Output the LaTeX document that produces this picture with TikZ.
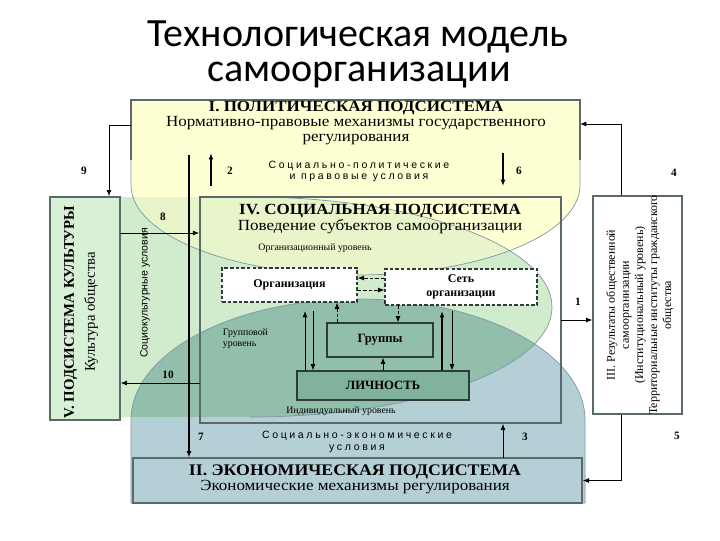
\documentclass[tikz,border=0pt]{standalone}
\usepackage{fontspec}
\setmainfont{Liberation Serif}
\newfontfamily\widefont{Liberation Serif}[FakeStretch=1.1]
\newfontfamily\titlefont{Carlito}
\newfontfamily\condfont{Liberation Sans}[LetterSpace=25]
\newfontfamily\sidefont{Liberation Sans}
\usetikzlibrary{arrows.meta,positioning,calc}
\definecolor{polyellow}{RGB}{255,255,212}
\definecolor{culgreen}{RGB}{208,236,204}
\definecolor{ecoblue}{RGB}{180,207,214}
\definecolor{mixgreen}{RGB}{232,245,202}
\definecolor{mixteal}{RGB}{146,190,172}
\definecolor{persteal}{RGB}{128,178,158}
\definecolor{culbox}{RGB}{216,240,214}
\definecolor{edgegrey}{HTML}{7D97A8}
\definecolor{framegrey}{HTML}{5A6A6A}
\definecolor{boxdark}{HTML}{2E3B39}

\tikzset{
  arr/.style={-{Latex[length=4.5pt,width=3.5pt]},line width=0.6pt},
  boldarr/.style={arr,line width=1.1pt},
  dasharr/.style={arr,dash pattern=on 2.5pt off 1.5pt},
  num/.style={font=\bfseries\fontsize{8}{9}\selectfont},
  titleline/.style={font=\titlefont\fontsize{28.5}{30}\selectfont,anchor=base,inner sep=0pt},
  headblock/.style={font=\widefont\fontsize{11}{10.5}\selectfont,align=center,anchor=north,inner sep=0pt},
  cond/.style={font=\condfont\fontsize{7.5}{7.8}\selectfont,align=center,anchor=north,inner sep=0pt},
  level/.style={font=\fontsize{7}{8}\selectfont},
  unitbox/.style={draw=boxdark,line width=0.8pt,inner sep=0pt},
  orgbox/.style={unitbox,dash pattern=on 2.5pt off 1.5pt,fill=white},
  bigframe/.style={draw=framegrey,line width=1.1pt,inner sep=0pt},
}

% outlines of the three subsystem regions (pixel grid)
\newcommand{\polshape}{(131,100) -- (131,185) .. controls (131,235) and (231,275) .. (355.5,275)
  .. controls (480,275) and (580,235) .. (580,185) -- (580,100) -- cycle}
\newcommand{\culshape}{(50,197) -- (250,197) .. controls (417,197) and (552,246) .. (552,307)
  .. controls (552,368) and (417,417) .. (250,417) -- (50,417) -- cycle}
\newcommand{\ecoshape}{(131,503) -- (131,420) .. controls (131,353) and (233,299) .. (358,299)
  .. controls (483,299) and (585,353) .. (585,420) -- (585,503) -- cycle}

\begin{document}
\begin{tikzpicture}[x=0.025cm,y=-0.025cm]
  \useasboundingbox (0,0) rectangle (720,540);

  % Title
  \node[titleline,text depth=0pt] (title1) at (358,46) {Технологическая модель};
  \node[titleline,text height=14pt] (title2) at (359,81) {самоорганизации};

  % Regions
  \fill[ecoblue] \ecoshape;
  \fill[culgreen] \culshape;
  \fill[polyellow] \polshape;
  \begin{scope}
    \clip \culshape;
    \fill[mixgreen] \polshape;
    \fill[mixteal] \ecoshape;
  \end{scope}
  \draw[edgegrey,line width=0.5pt] \ecoshape;
  \draw[edgegrey,line width=0.5pt] (250,197) .. controls (417,197) and (552,246) .. (552,307)
    .. controls (552,368) and (417,417) .. (250,417);
  \draw[edgegrey,line width=0.5pt] \polshape;
  \draw[framegrey,line width=1.2pt] (131,160) -- (131,100) -- (580,100) -- (580,160);

  % I. Political subsystem
  \node[headblock] (pol) at (356,101)
    {{\bfseries I.\ ПОЛИТИЧЕСКАЯ ПОДСИСТЕМА}\\Нормативно-правовые механизмы государственного\\регулирования};
  \node[cond] (polcond) at (359,161) {Социально-политические\\и правовые условия};

  % IV. Social subsystem
  \node[bigframe,minimum width=9.025cm,minimum height=5.65cm] (soc) at (380.5,310) {};
  \node[headblock,font=\widefont\fontsize{11}{9.5}\selectfont] (sochead) at (380,204)
    {{\bfseries IV. СОЦИАЛЬНАЯ ПОДСИСТЕМА}\\Поведение субъектов самоорганизации};
  \node[level,anchor=base] (orglevel) at (315,250) {Организационный уровень};
  \node[level,align=left,anchor=north west] (grplevel) at (218,324) {Групповой\\уровень};
  \node[level,anchor=base] (perslevel) at (341,413) {Индивидуальный уровень};

  \node[orgbox,minimum width=3.375cm,minimum height=0.85cm,font=\bfseries\fontsize{8.5}{10}\selectfont] (org) at (289.5,285) {Организация};
  \node[orgbox,minimum width=3.8cm,minimum height=0.9cm,align=center,font=\bfseries\fontsize{8.5}{10}\selectfont] (net) at (461,287) {Сеть\\организации};
  \node[unitbox,minimum width=2.65cm,minimum height=0.85cm,font=\bfseries\fontsize{9}{10}\selectfont] (grp) at (380,340) {Группы};
  \node[unitbox,fill=persteal,minimum width=4.3cm,minimum height=0.725cm,font=\bfseries\fontsize{9}{10}\selectfont] (pers) at (383,385.5) {ЛИЧНОСТЬ};

  % links between the levels
  \draw[dasharr] ([yshift=0.225cm]net.west) -- ([yshift=0.225cm]net.west -| org.east);
  \draw[dasharr] ([yshift=-0.125cm]org.east) -- ([yshift=-0.125cm]org.east -| net.west);
  \coordinate (xg) at (337,323);
  \draw[dasharr] (xg) -- (xg |- org.south);
  \coordinate (xn) at (398,305);
  \draw[dasharr] (xn) -- (xn |- grp.north);
  \draw[arr] (pers.north) -- (pers.north |- grp.south);
  \coordinate (u1) at (305,311);
  \draw[arr] (u1 |- pers.north) -- (u1);
  \coordinate (d1) at (313,311);
  \draw[arr] (d1) -- (d1 |- pers.north);
  \coordinate (u2) at (442,311);
  \draw[boldarr] (u2 |- pers.north) -- (u2);
  \coordinate (d2) at (452,311);
  \draw[arr] (d2) -- (d2 |- pers.north);

  % V. Culture subsystem
  \node[draw=framegrey,line width=0.9pt,fill=culbox,minimum width=1.75cm,minimum height=5.575cm] (cul) at (85,308.5) {};
  \node[rotate=90,align=center,font=\fontsize{10.5}{15}\selectfont] (cultext) at (81,312)
    {{\bfseries V. ПОДСИСТЕМА КУЛЬТУРЫ}\\Культура общества};
  \node[rotate=90,font=\sidefont\fontsize{7.5}{9}\selectfont] (culcond) at (145,293) {Социокультурные условия};

  % II. Economic subsystem
  \node[draw=framegrey,line width=0.9pt,fill=ecoblue,minimum width=11.225cm,minimum height=1.125cm] (eco) at (357.5,480.5) {};
  \node[headblock,font=\widefont\fontsize{11}{11.3}\selectfont] (ecotext) at (355,464)
    {{\fontsize{11.5}{11.3}\selectfont\bfseries II. ЭКОНОМИЧЕСКАЯ ПОДСИСТЕМА}\\Экономические механизмы регулирования};
  \node[cond,font=\condfont\fontsize{7.5}{8.5}\selectfont] (ecocond) at (357,431) {Социально-экономические\\условия};

  % III. Results
  \node[draw=framegrey,line width=0.8pt,fill=white,minimum width=2.225cm,minimum height=5.45cm] (res) at (637.5,305) {};
  \node[rotate=90,align=center,font=\fontsize{8.5}{10}\selectfont] (restext) at (640,305)
    {III. Результаты общественной\\самоорганизации\\(Институциональный уровень)\\Территориальные институты гражданского\\общества};

  % Connectors with numbers
  \coordinate (a1) at (561,320);
  \draw[arr] (a1) -- (a1 -| res.west);
  \node[num] (n1) at (578,302) {1};
  \coordinate (a2) at (211,186);
  \draw[boldarr] (a2) -- ++(0,-33);
  \node[num] (n2) at (230,171) {2};
  \coordinate (a3) at (503,458);
  \draw[arr] (a3) -- (a3 |- soc.south);
  \node[num] (n3) at (525,437) {3};
  \coordinate (p4) at (580,124);
  \draw[arr] ([xshift=-0.41cm]res.north) |- (p4);
  \node[num] (n4) at (674,173) {4};
  \draw[arr] ([xshift=-0.41cm]res.south) |- (eco.east);
  \node[num] (n5) at (677,436) {5};
  \coordinate (a6) at (503,153);
  \draw[boldarr] (a6) -- ++(0,33);
  \node[num] (n6) at (519,171) {6};
  \coordinate (a7) at (189,155);
  \draw[boldarr] (a7) -- (a7 |- eco.north);
  \node[num] (n7) at (201,437) {7};
  \coordinate (a8) at (120,233);
  \draw[arr] (a8) -- (a8 -| soc.west);
  \node[num] (n8) at (163,217) {8};
  \coordinate (p9) at (131,125);
  \draw[arr] (p9) -| ([xshift=0.6cm]cul.north);
  \node[num] (n9) at (84,171) {9};
  \coordinate (a10) at (200,383);
  \draw[arr] (a10) -- (a10 -| cul.east);
  \node[num] (n10) at (168,375) {10};
\end{tikzpicture}
\end{document}
